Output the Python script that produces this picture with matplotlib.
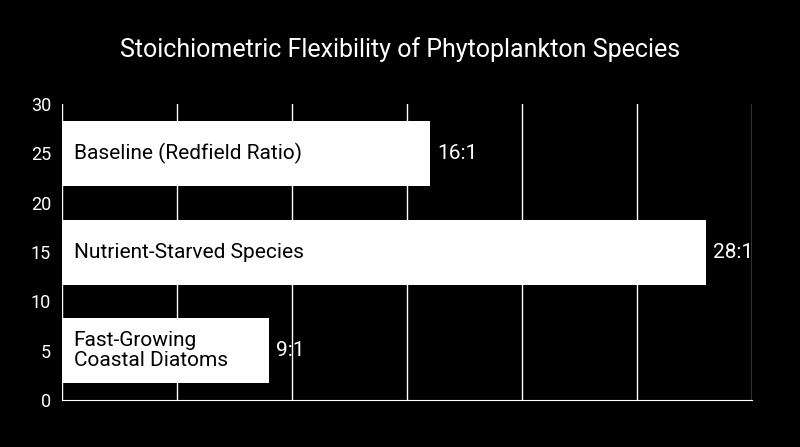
import matplotlib

matplotlib.use("Agg")
import matplotlib.pyplot as plt

plt.rcParams["font.family"] = ["Roboto", "DejaVu Sans"]

CATEGORIES = ["Fast-Growing\nCoastal Diatoms", "Nutrient-Starved Species", "Baseline (Redfield Ratio)"]
POSITIONS = [5, 15, 25]
VALUES = [9, 28, 16]
VALUE_LABELS = ["9:1", "28:1", "16:1"]

fig = plt.figure(figsize=(8, 4.47), dpi=100, facecolor="black")
ax = fig.add_axes([0.0775, 0.105, 0.8625, 0.662], facecolor="black")

ax.barh(POSITIONS, VALUES, height=6.6, color="white", zorder=3)
for y, v, cat, lab in zip(POSITIONS, VALUES, CATEGORIES, VALUE_LABELS):
    ax.text(0.5, y, cat, ha="left", va="center", color="black", fontsize=15,
            linespacing=1.1, zorder=4)
    ax.text(v + 0.3, y, lab, ha="left", va="center", color="white", fontsize=15, zorder=4)

ax.set_xlim(0, 30)
ax.set_ylim(0, 30)
ax.set_xticks(range(0, 31, 5))
ax.set_xticklabels([])
ax.set_yticks(range(0, 31, 5))
ax.tick_params(axis="y", colors="white", labelsize=13, length=0, pad=8)
ax.tick_params(axis="x", length=0)
ax.grid(axis="x", color="white", lw=1, zorder=1)
for s in ("top", "right", "left"):
    ax.spines[s].set_visible(False)
ax.spines["bottom"].set_color("white")

fig.text(0.5, 0.89, "Stoichiometric Flexibility of Phytoplankton Species", ha="center",
         va="center", color="white", fontsize=18)

fig.savefig("out.png", dpi=100, facecolor="black")
